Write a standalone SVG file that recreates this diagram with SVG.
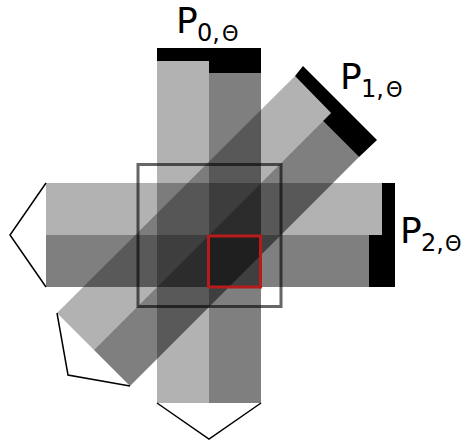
<svg xmlns="http://www.w3.org/2000/svg" width="462" height="441" viewBox="0 0 462 441">
<style>
.l{fill:#000;fill-opacity:.3}
.d{fill:#000;fill-opacity:.5}
.k{fill:#000}
.o{fill:none;stroke:#000;stroke-width:1.5;stroke-linejoin:miter}
.t{font-family:"DejaVu Sans",sans-serif;font-size:36px;fill:#000}
.s{font-size:24px}
.h{font-size:21px}
</style>
<g id="projection-0">
<rect class="l" x="157" y="61" width="52" height="342"/>
<rect class="d" x="209" y="73" width="52" height="330"/>
<path class="k" d="M157 48H261V73H209V61H157Z"/>
<text class="t" x="176" y="33">P<tspan class="s" x="197" y="41">0,</tspan><tspan class="h" x="222" y="41">Θ</tspan></text>
</g>
<g id="projection-1">
<polygon class="l" points="295,76 331,113 94,350 57,313"/>
<polygon class="d" points="323,121 359,157 130,386 94,350"/>
<polygon class="k" points="303,66 377,140 359,157 323,121 331,113 295,76"/>
<text class="t" x="340" y="89">P<tspan class="s" x="361" y="97">1,</tspan><tspan class="h" x="386" y="97">Θ</tspan></text>
</g>
<g id="projection-2">
<rect class="l" x="46" y="183" width="336" height="52"/>
<rect class="d" x="46" y="235" width="323" height="52"/>
<path class="k" d="M382 183H395V287H369V235H382Z"/>
<text class="t" x="400" y="243">P<tspan class="s" x="421" y="251">2,</tspan><tspan class="h" x="445" y="251">Θ</tspan></text>
</g>
<g id="field-of-view"><rect x="138" y="164.500" width="143" height="142" fill="none" stroke="#000" stroke-opacity=".6" stroke-width="3"/></g>
<g id="voxel"><rect x="208.500" y="236" width="52" height="51" fill="none" stroke="#b71c1c" stroke-width="3"/></g>
<g id="connectors">
<polyline class="o" points="46,183 10,235 46,287"/>
<polyline class="o" points="57,313 68,375 130,386"/>
<polyline class="o" points="157,403 209,439 261,403"/>
</g>
</svg>
